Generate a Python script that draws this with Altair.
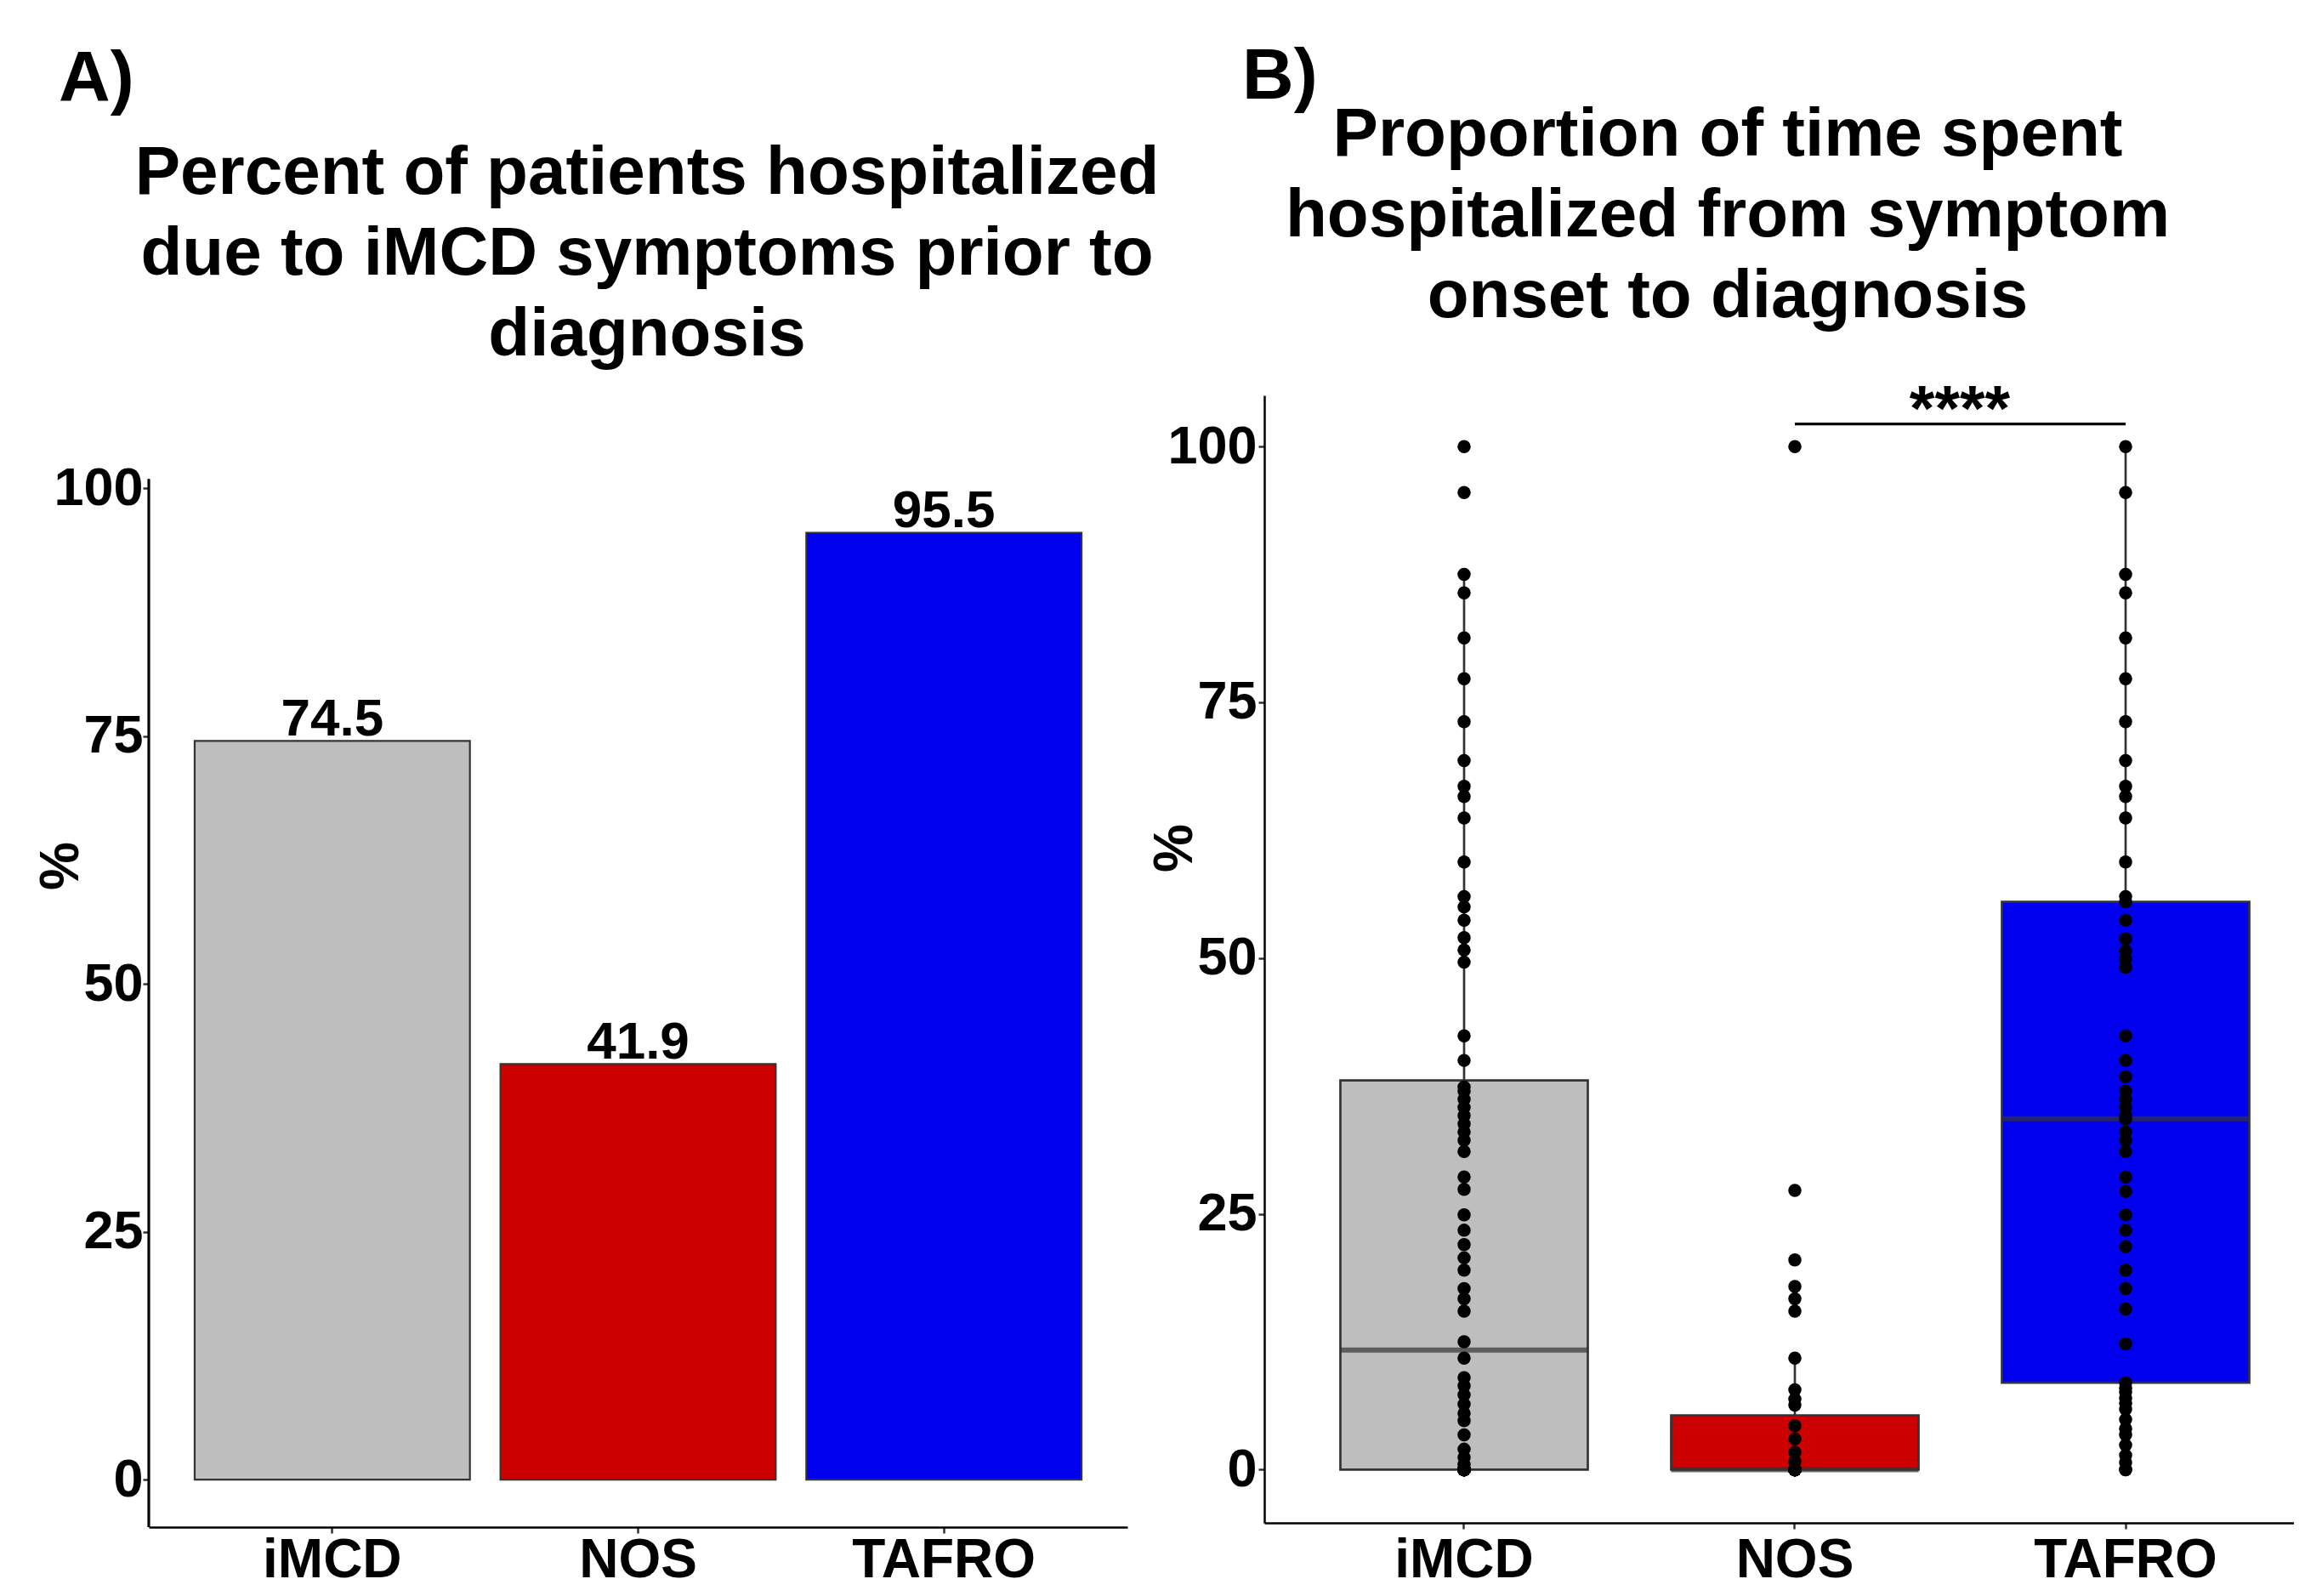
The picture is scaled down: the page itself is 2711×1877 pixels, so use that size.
import altair as alt
import pandas as pd

# ---------------- data ----------------
GROUPS = ["iMCD", "NOS", "TAFRO"]
GROUP_COLORS = ["#BEBEBE", "#CD0000", "#0000EE"]
PCT_HOSPITALIZED = [74.5, 41.9, 95.5]

IMCD_ZEROS = 29
IMCD_NONZERO = [0.5, 1.2, 2.0, 3.4, 4.8, 5.5, 6.4, 7.3, 8.2, 9.0, 10.9, 12.5,
                15.5, 16.7, 17.7, 19.5, 20.7, 22.0, 23.4, 24.9, 27.4, 28.6,
                31.1, 32.2, 33.0, 33.8, 34.6, 35.4, 36.2, 37.0, 37.4, 40.0,
                42.4, 49.6, 50.8, 52.0, 53.7, 55.0, 56.0, 59.4, 63.7, 65.8,
                66.8, 69.3, 73.1, 77.3, 81.3, 85.7, 87.5, 95.5, 100.0]
NOS_ZEROS = 25
NOS_NONZERO = [0.8, 1.7, 3.0, 4.3, 6.3, 6.9, 7.8, 10.9, 15.5, 16.7, 17.9,
               20.5, 27.3, 100.0]
TAFRO_VALUES = [0.0, 0.0, 0.7, 1.4, 2.4, 3.4, 4.0, 4.9, 5.9, 6.5, 7.0, 7.6,
                8.0, 8.5, 12.3, 15.7, 17.7, 19.5, 21.8, 23.4, 24.9, 27.2,
                28.6, 31.1, 32.2, 33.0, 34.3, 34.6, 35.4, 36.2, 37.0, 38.4,
                40.0, 42.4, 49.1, 49.9, 50.7, 51.9, 53.7, 55.5, 56.0, 59.4,
                63.7, 65.8, 66.8, 69.3, 73.1, 77.3, 81.3, 85.7, 87.5, 95.5,
                100.0]

Y_TICKS = [0, 25, 50, 75, 100]
TITLE_A = "Percent of patients hospitalized\ndue to iMCD symptoms prior to\ndiagnosis"
TITLE_B = "Proportion of time spent\nhospitalized from symptom\nonset to diagnosis"
PANEL_A = "A)"
PANEL_B = "B)"
SIG_PAIR = ["NOS", "TAFRO"]
SIG_LABEL = "****"
SIG_LINE_Y = 102.2
SIG_TEXT_Y = 101.6

# ---------------- tables ----------------
df_a = pd.DataFrame({"group": GROUPS, "pct": PCT_HOSPITALIZED})
rows = []
for v in [0.0] * IMCD_ZEROS + IMCD_NONZERO:
    rows.append({"group": "iMCD", "value": v})
for v in [0.0] * NOS_ZEROS + NOS_NONZERO:
    rows.append({"group": "NOS", "value": v})
for v in TAFRO_VALUES:
    rows.append({"group": "TAFRO", "value": v})
df_b = pd.DataFrame(rows)
df_sig = pd.DataFrame({"g1": [SIG_PAIR[0]], "g2": [SIG_PAIR[1]],
                       "y": [SIG_LINE_Y], "ylab": [SIG_TEXT_Y],
                       "label": [SIG_LABEL]})

# ---------------- styles ----------------
FONT = "Liberation Sans, Arial, Helvetica, sans-serif"
YLABEL_SIZE = 63
XLABEL_SIZE = 64
AX_W = 2.5

color_scale = alt.Scale(domain=GROUPS, range=GROUP_COLORS)

# Panel A scales/axes
x_scale_a = alt.Scale(domain=GROUPS, paddingInner=0.1, paddingOuter=0.15)
y_scale_a = alt.Scale(domain=[-4.8, 109.35], nice=False, zero=False)
x_axis_a = alt.Axis(title=None, labelFont=FONT, labelFontSize=XLABEL_SIZE,
                    labelFontWeight="bold", labelColor="black", labelAngle=0,
                    labelPadding=0, labelLimit=0, tickSize=7, tickWidth=AX_W,
                    tickColor="#333333", domainColor="black",
                    domainWidth=AX_W, grid=False)
y_axis_a = alt.Axis(title="%", titleFont=FONT, titleFontSize=64,
                    titleFontWeight="bold", titleColor="black",
                    titleAngle=-90, titleBaseline="alphabetic",
                    titleAlign="center", titleX=-84, titleY=553,
                    values=Y_TICKS, labelFont=FONT, labelFontSize=YLABEL_SIZE,
                    labelFontWeight="bold", labelColor="black",
                    labelPadding=0, tickSize=7, tickWidth=AX_W,
                    tickColor="#333333", domain=False, grid=False)

xa = alt.X("group:N", scale=x_scale_a, axis=x_axis_a, sort=GROUPS)
ya = alt.Y("pct:Q", scale=y_scale_a, axis=y_axis_a)

bars = alt.Chart(df_a).mark_bar(stroke="#333333", strokeWidth=2.2).encode(
    x=xa, y=ya,
    color=alt.Color("group:N", scale=color_scale, legend=None),
)
bar_labels = alt.Chart(df_a).mark_text(
    font=FONT, fontSize=62, fontWeight="bold", color="black",
    baseline="alphabetic", align="center", dy=-6,
).encode(x=xa, y=ya, text=alt.Text("pct:Q", format=".1f"))
a_axis_line = alt.Chart(df_a).mark_rule(color="black", strokeWidth=AX_W).encode(
    x=alt.value(0), y=alt.datum(-4.8), y2=alt.datum(100.9)
)
a_label = alt.Chart(pd.DataFrame({"t": [PANEL_A]})).mark_text(
    font=FONT, fontSize=84, fontWeight="bold", color="black",
    align="left", baseline="alphabetic",
).encode(x=alt.value(-106), y=alt.value(-346), text="t:N")
a_title = alt.Chart(pd.DataFrame({"t": [TITLE_A]})).mark_text(
    font=FONT, fontSize=80, fontWeight="bold", color="black",
    align="center", baseline="alphabetic", lineBreak="\n", lineHeight=95,
).encode(x=alt.value(586), y=alt.value(-237), text="t:N")

panel_a = alt.layer(bars, bar_labels, a_axis_line, a_label, a_title).properties(
    width=1151, height=1331
)

# Panel B scales/axes
x_scale_b = alt.Scale(domain=GROUPS, paddingInner=0.25, paddingOuter=0.1815,
                      align=0.631)
y_scale_b = alt.Scale(domain=[-5.2, 105], nice=False, zero=False)
x_axis_b = alt.Axis(title=None, labelFont=FONT, labelFontSize=XLABEL_SIZE,
                    labelFontWeight="bold", labelColor="black", labelAngle=0,
                    labelPadding=5, labelLimit=0, tickSize=7, tickWidth=AX_W,
                    tickColor="#333333", domainColor="black",
                    domainWidth=AX_W, grid=False)
y_axis_b = alt.Axis(title="%", titleFont=FONT, titleFontSize=64,
                    titleFontWeight="bold", titleColor="black",
                    titleAngle=-90, titleBaseline="alphabetic",
                    titleAlign="center", titleX=-86, titleY=532,
                    values=Y_TICKS, labelFont=FONT, labelFontSize=YLABEL_SIZE,
                    labelFontWeight="bold", labelColor="black",
                    labelPadding=2, tickSize=7, tickWidth=AX_W,
                    tickColor="#333333", domainColor="black",
                    domainWidth=AX_W, grid=False)


def xb(field):
    return alt.X(field, scale=x_scale_b, axis=x_axis_b, sort=GROUPS)


def yb(field):
    return alt.Y(field, scale=y_scale_b, axis=y_axis_b)


box = alt.Chart(df_b).mark_boxplot(
    extent=1.5, size=291, outliers=False,
    box={"stroke": "#333333", "strokeWidth": 2.7},
    median={"color": "#333333", "thickness": 6},
    rule={"color": "#333333", "strokeWidth": 2.7},
).encode(
    x=xb("group:N"), y=yb("value:Q"),
    color=alt.Color("group:N", scale=color_scale, legend=None),
)
points = alt.Chart(df_b).mark_circle(size=240, color="black", opacity=1).encode(
    x=xb("group:N"), y=yb("value:Q")
)
sig_line = alt.Chart(df_sig).mark_rule(color="black", strokeWidth=3.2).encode(
    x=xb("g1:N"), x2="g2:N", y=yb("y:Q")
)
sig_text = alt.Chart(df_sig).mark_text(
    font=FONT, fontSize=76, fontWeight="bold", color="black",
    align="center", baseline="alphabetic", dx=194,
).encode(x=xb("g1:N"), y=yb("ylab:Q"), text="label:N")
b_label = alt.Chart(pd.DataFrame({"t": [PANEL_B]})).mark_text(
    font=FONT, fontSize=84, fontWeight="bold", color="black",
    align="left", baseline="alphabetic",
).encode(x=alt.value(-26), y=alt.value(-349), text="t:N")
b_title = alt.Chart(pd.DataFrame({"t": [TITLE_B]})).mark_text(
    font=FONT, fontSize=80, fontWeight="bold", color="black",
    align="center", baseline="alphabetic", lineBreak="\n", lineHeight=95,
).encode(x=alt.value(545), y=alt.value(-282), text="t:N")

panel_b = alt.layer(box, points, sig_line, sig_text, b_label, b_title).properties(
    width=1211, height=1326
)

chart = alt.hconcat(panel_a, panel_b, spacing=161, bounds="flush").properties(
    padding={"left": 32, "top": 41, "right": 0, "bottom": 0},
    background="white",
).configure_view(stroke=None)

chart.save("out.html", embed_options={"renderer": "svg", "actions": False})
